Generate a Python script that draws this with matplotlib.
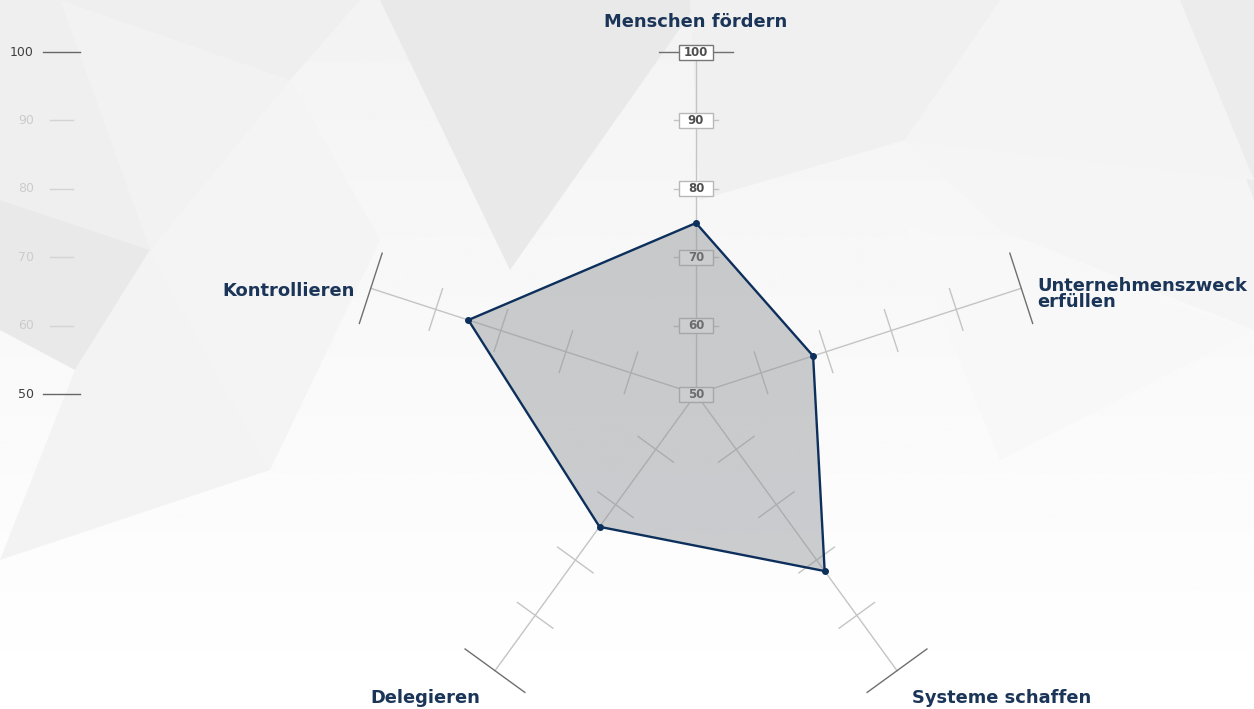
import matplotlib
matplotlib.use("Agg")
import matplotlib.pyplot as plt
from matplotlib.patches import Polygon, Rectangle
import numpy as np

NAVY = "#0d2f5c"; LABEL = "#1b3558"; AXIS = "#c4c4c4"; DARK = "#6f6f6f"

# data
categories = ["Menschen fördern", "Unternehmenszweck\nerfüllen", "Systeme schaffen", "Delegieren", "Kontrollieren"]
values = [75, 68, 82, 74, 85]
ticks = [50, 60, 70, 80, 90, 100]
angles_deg = [90, 18, -54, -126, 162]

W, H = 1254, 709
CX, CY = 696, 394          # centre in pixels
PX = 6.84                  # pixels per value unit

fig = plt.figure(figsize=(W / 100, H / 100), dpi=100)

# ---------- background (low poly) ----------
bg = fig.add_axes([0, 0, 1, 1])
bg.set_xlim(0, W); bg.set_ylim(H, 0); bg.axis("off")
grad = np.linspace(0.953, 1.0, 400)[:, None] * np.ones((1, 10))
bg.imshow(grad, extent=[0, W, H, 0], cmap="gray", vmin=0, vmax=1, aspect="auto",
          interpolation="bilinear", zorder=0)
polys = [
    ([(0, 0), (360, 0), (290, 80), (150, 250), (0, 200)], "#efefef"),
    ([(60, 0), (290, 80), (150, 250)], "#f2f2f2"),
    ([(380, 0), (700, 0), (510, 270)], "#e9e9e9"),
    ([(0, 200), (150, 250), (75, 370), (0, 330)], "#e9e9e9"),
    ([(75, 370), (150, 250), (270, 470), (0, 560)], "#f3f3f3"),
    ([(150, 250), (290, 80), (380, 240), (270, 470)], "#f4f4f4"),
    ([(690, 0), (1000, 0), (905, 140), (700, 200)], "#f0f0f0"),
    ([(905, 140), (1254, 180), (1254, 330), (1000, 230)], "#f5f5f5"),
    ([(1180, 0), (1254, 0), (1254, 200)], "#ececec"),
    ([(1000, 0), (1180, 0), (1254, 180), (905, 140)], "#f4f4f4"),
    ([(905, 225), (1000, 460), (1254, 330)], "#f8f8f8"),
]
for pts, c in polys:
    bg.add_patch(Polygon(pts, closed=True, fc=c, ec="none", zorder=1))

# ---------- radar in data units (value - 50) ----------
ax = fig.add_axes([0, 0, 1, 1])
ax.set_xlim(-CX / PX, (W - CX) / PX)
ax.set_ylim(-(H - CY) / PX, CY / PX)
ax.axis("off")
ax.patch.set_alpha(0)

th = np.radians(angles_deg)
R = max(ticks) - min(ticks)
for i, a in enumerate(th):
    ux, uy = np.cos(a), np.sin(a)
    px, py = -uy, ux
    ax.plot([0, R * ux], [0, R * uy], color=AXIS, lw=1, zorder=2)
    for t in ticks[1:]:
        r = t - min(ticks)
        h = 5.4 if t == max(ticks) else 3.2
        col = DARK if t == max(ticks) else AXIS
        ax.plot([r * ux - h * px, r * ux + h * px], [r * uy - h * py, r * uy + h * py],
                color=col, lw=1, zorder=2)

# boxed tick labels on the first axis
bw, bh = 34 / PX, 15 / PX
for t in ticks:
    r = t - min(ticks)
    ec = "#777777" if t == max(ticks) else "#b8b8b8"
    ax.add_patch(Rectangle((-bw / 2, r - bh / 2), bw, bh, fc="white", ec=ec, lw=1, zorder=3))
    ax.text(0, r, str(t), ha="center", va="center", fontsize=8.5, color="#4f4f4f",
            fontfamily="DejaVu Sans", fontweight="bold", zorder=4)

# data polygon
r_vals = np.array(values) - min(ticks)
xs = r_vals * np.cos(th); ys = r_vals * np.sin(th)
ax.add_patch(Polygon(np.c_[xs, ys], closed=True, fc="#8e9196", alpha=0.45, ec="none", zorder=5))
ax.plot(np.r_[xs, xs[0]], np.r_[ys, ys[0]], color=NAVY, lw=1.7, zorder=6)
ax.scatter(xs, ys, s=16, color=NAVY, zorder=7)

# category labels
lab_kw = dict(fontsize=12.9, fontweight="bold", color=LABEL, fontfamily="DejaVu Sans", linespacing=0.85)
ax.text(0, (CY - 22) / PX, categories[0], ha="center", va="center", **lab_kw)
ax.text((1037 - CX) / PX, (CY - 294) / PX, categories[1], ha="left", va="center", **lab_kw)
ax.text((912 - CX) / PX, (CY - 698) / PX, categories[2], ha="left", va="center", **lab_kw)
ax.text((425 - CX) / PX, (CY - 698) / PX, categories[3], ha="center", va="center", **lab_kw)
ax.text((355 - CX) / PX, (CY - 291) / PX, categories[4], ha="right", va="center", **lab_kw)

# left value scale
for t in ticks:
    r = t - min(ticks)
    strong = t in (min(ticks), max(ticks))
    col = "#3f3f3f" if strong else "#cccccc"
    x0, x1 = (43, 80) if strong else (50, 73)
    ax.plot([(x0 - CX) / PX, (x1 - CX) / PX], [r, r], color="#666666" if strong else "#d4d4d4", lw=1)
    ax.text((34 - CX) / PX, r, str(t), ha="right", va="center", fontsize=9,
            color=col, fontfamily="DejaVu Sans")

fig.savefig("out.png", dpi=100, facecolor="white")
